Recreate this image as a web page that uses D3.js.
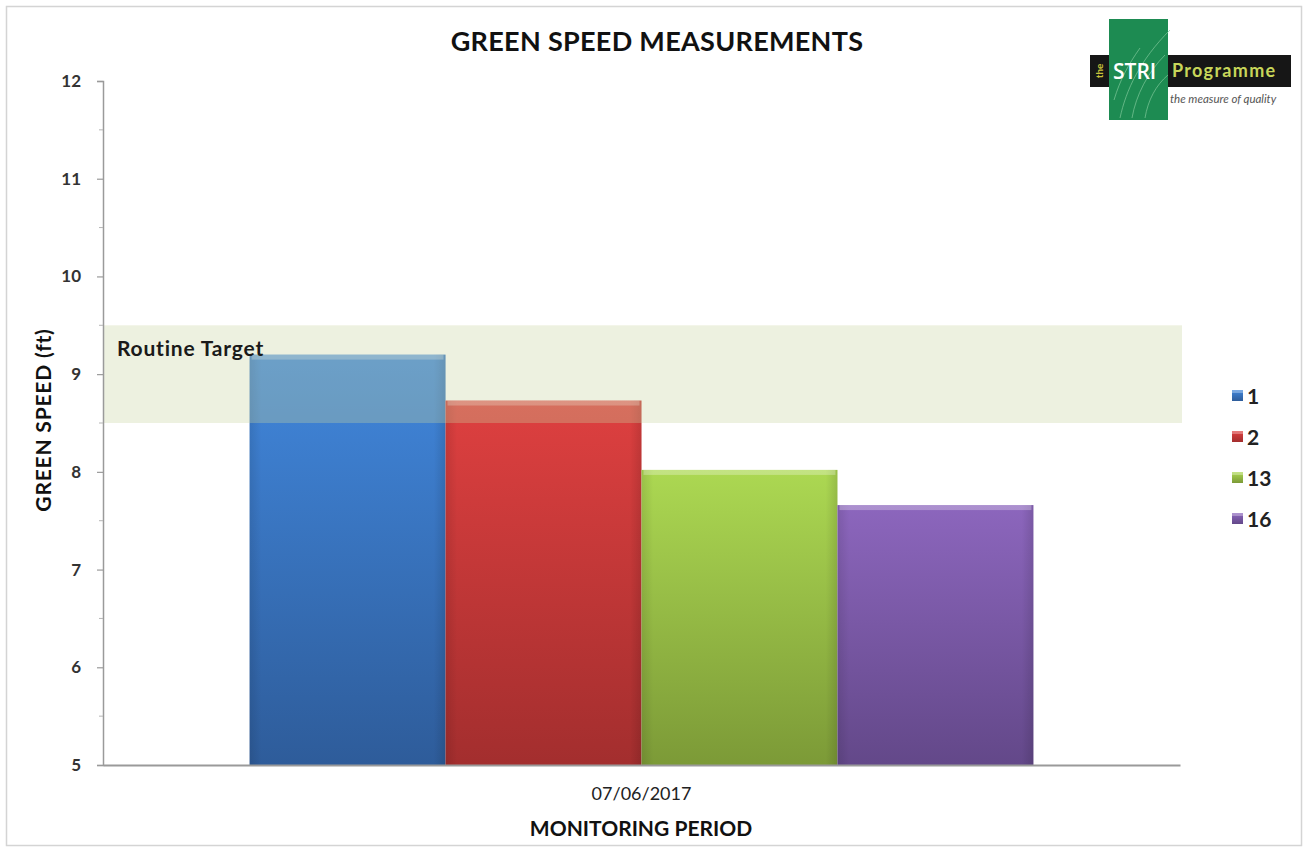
<!DOCTYPE html>
<html>
<head>
<meta charset="utf-8">
<script src="https://cdn.jsdelivr.net/npm/d3@7"></script>
<style>
  html, body { margin: 0; padding: 0; background: #fff; }
  svg { display: block; font-family: Lato, "Open Sans", sans-serif; }
</style>
</head>
<body>
<svg id="chart" width="1308" height="852"></svg>
<script>
// Green speed per hole for the monitoring visit
const periods = ["07/06/2017"];
const holes = ["1", "2", "13", "16"];
const speeds = [9.2, 8.73, 8.02, 7.66];
const yTicks = [5, 6, 7, 8, 9, 10, 11, 12];
const targetRange = [8.5, 9.5];

const palette = {
  "1":  ["#4187dc", "#2e5c9a"],
  "2":  ["#de4040", "#a32e2e"],
  "13": ["#acd852", "#7c9a37"],
  "16": ["#8c66bd", "#634889"]
};

const svg = d3.select("#chart");
const W = 1308, H = 852;
const plot = { left: 103, right: 1180, top: 81, bottom: 765 };

// outer frame
svg.append("rect")
  .attr("x", 6.5).attr("y", 6.5).attr("width", W - 13).attr("height", H - 13)
  .attr("fill", "#fff").attr("stroke", "#d4d4d4").attr("stroke-width", 1.5);

const y = d3.scaleLinear().domain([5, 12]).range([plot.bottom, plot.top]);
const x0 = d3.scaleBand().domain(periods).range([plot.left, plot.right])
  .paddingInner(0).paddingOuter(0.187);
const x1 = d3.scaleBand().domain(holes).range([0, x0.bandwidth()]).padding(0);

// gradients
const defs = svg.append("defs");
holes.forEach((h, i) => {
  const g = defs.append("linearGradient").attr("id", "grad" + i)
    .attr("x1", 0).attr("y1", 0).attr("x2", 0).attr("y2", 1);
  g.append("stop").attr("offset", "0%").attr("stop-color", palette[h][0]);
  g.append("stop").attr("offset", "100%").attr("stop-color", palette[h][1]);
  const s = defs.append("linearGradient").attr("id", "side" + i)
    .attr("x1", 0).attr("y1", 0).attr("x2", 1).attr("y2", 0);
  s.append("stop").attr("offset", "0%").attr("stop-color", "#000").attr("stop-opacity", 0.10);
  s.append("stop").attr("offset", "6%").attr("stop-color", "#000").attr("stop-opacity", 0);
  s.append("stop").attr("offset", "94%").attr("stop-color", "#000").attr("stop-opacity", 0);
  s.append("stop").attr("offset", "100%").attr("stop-color", "#000").attr("stop-opacity", 0.12);
});

// bars
const barG = svg.append("g");
periods.forEach(p => {
  holes.forEach((h, i) => {
    const bx = x0(p) + x1(h), bw = x1.bandwidth();
    const by = y(speeds[i]), bh = y(5) - y(speeds[i]);
    barG.append("rect").attr("x", bx).attr("y", by).attr("width", bw).attr("height", bh)
      .attr("fill", `url(#grad${i})`);
    barG.append("rect").attr("x", bx).attr("y", by).attr("width", bw).attr("height", bh)
      .attr("fill", `url(#side${i})`);
    // bevelled top edge
    barG.append("rect").attr("x", bx + 2).attr("y", by).attr("width", bw - 4).attr("height", 5)
      .attr("fill", "#fff").attr("opacity", 0.28);
  });
});

// routine target band, drawn over the bars
svg.append("rect")
  .attr("x", plot.left).attr("width", plot.right - plot.left + 2)
  .attr("y", y(targetRange[1])).attr("height", y(targetRange[0]) - y(targetRange[1]))
  .attr("fill", "rgb(200,213,159)").attr("opacity", 0.32);

svg.append("text").attr("x", 117).attr("y", y(targetRange[1]) + 31)
  .attr("font-size", 21).attr("font-weight", 700).attr("letter-spacing", 0.8).attr("fill", "#1a1a1a")
  .text("Routine Target");

// y axis
const yAxis = svg.append("g").attr("transform", `translate(${plot.left},0)`)
  .call(d3.axisLeft(y).tickValues(yTicks).tickSize(6).tickPadding(16).tickFormat(d3.format("d")));
yAxis.select(".domain").attr("stroke", "#9a9a9a").attr("stroke-width", 1.5);
yAxis.selectAll(".tick line").attr("stroke", "#9a9a9a").attr("stroke-width", 1.2);
yAxis.selectAll(".tick text").attr("font-size", 17).attr("font-weight", 700)
  .attr("fill", "#333").attr("font-family", "Lato, sans-serif");
// minor ticks
svg.append("g").selectAll("line")
  .data(yTicks.slice(0, -1).map(v => v + 0.5)).join("line")
  .attr("x1", plot.left - 4).attr("x2", plot.left)
  .attr("y1", d => y(d)).attr("y2", d => y(d))
  .attr("stroke", "#b5b5b5").attr("stroke-width", 1);

// x axis
const xAxis = svg.append("g").attr("transform", `translate(0,${plot.bottom})`)
  .call(d3.axisBottom(x0).tickSize(0).tickPadding(22));
xAxis.select(".domain").attr("stroke", "#9a9a9a").attr("stroke-width", 1.8);
xAxis.selectAll(".tick text").attr("font-size", 18).attr("fill", "#222")
  .attr("font-family", "Lato, sans-serif");

// titles
svg.append("text").attr("x", 657).attr("y", 51).attr("text-anchor", "middle")
  .attr("font-size", 27).attr("font-weight", 700).attr("letter-spacing", 0.3).attr("fill", "#111")
  .text("GREEN SPEED MEASUREMENTS");
svg.append("text").attr("x", 641).attr("y", 836).attr("text-anchor", "middle")
  .attr("font-size", 21).attr("font-weight", 700).attr("fill", "#111")
  .text("MONITORING PERIOD");
svg.append("text").attr("transform", `translate(51,${(plot.top + plot.bottom) / 2 - 3}) rotate(-90)`)
  .attr("text-anchor", "middle").attr("font-size", 21).attr("font-weight", 700)
  .attr("letter-spacing", 0.8).attr("fill", "#111")
  .text("GREEN SPEED (ft)");

// legend
const legend = svg.append("g").attr("transform", "translate(1232,390)");
holes.forEach((h, i) => {
  const g = legend.append("g").attr("transform", `translate(0,${i * 41})`);
  g.append("rect").attr("width", 11).attr("height", 11).attr("fill", `url(#grad${i})`);
  g.append("rect").attr("width", 11).attr("height", 3).attr("fill", "#fff").attr("opacity", 0.3);
  g.append("text").attr("x", 15).attr("y", 14).attr("font-size", 21).attr("font-weight", 700)
    .attr("fill", "#222").text(h);
});

// programme logo
const logo = svg.append("g");
logo.append("rect").attr("x", 1090).attr("y", 55).attr("width", 201).attr("height", 32).attr("fill", "#161616");
logo.append("rect").attr("x", 1109).attr("y", 19).attr("width", 59).attr("height", 101).attr("fill", "#1d8b52");
const grass = ["M1120,118 C1126,90 1140,60 1170,30", "M1132,118 C1136,95 1148,72 1165,55",
               "M1145,118 C1148,100 1156,85 1168,75", "M1114,100 C1120,80 1128,65 1140,48"];
logo.selectAll("path.grass").data(grass).join("path").attr("class", "grass")
  .attr("d", d => d).attr("fill", "none").attr("stroke", "#7fc79a").attr("stroke-width", 1).attr("opacity", 0.7);
logo.append("text").attr("transform", "translate(1103,71) rotate(-90)").attr("text-anchor", "middle")
  .attr("font-size", 10).attr("font-weight", 700).attr("fill", "#c9c23a").text("the");
logo.append("text").attr("x", 1113).attr("y", 79).attr("font-size", 21).attr("font-weight", 600)
  .attr("fill", "#fff").attr("font-family", "'Open Sans', sans-serif").text("STRI");
logo.append("text").attr("x", 1172).attr("y", 77).attr("font-size", 18).attr("font-weight", 700)
  .attr("letter-spacing", 1.3).attr("fill", "#c8d65a").text("Programme");
logo.append("text").attr("x", 1170).attr("y", 103).attr("font-size", 11.5).attr("font-style", "italic")
  .attr("fill", "#555").text("the measure of quality");
</script>
</body>
</html>
